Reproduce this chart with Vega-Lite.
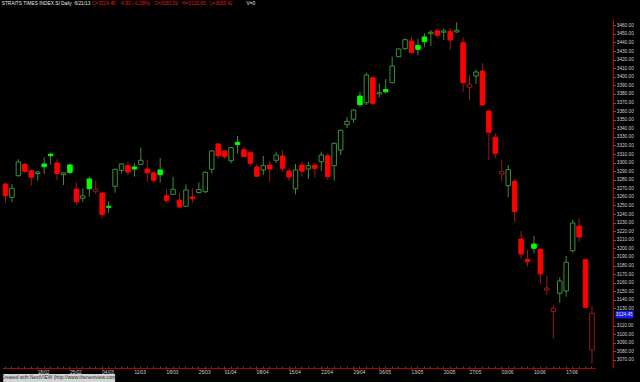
{
"$schema": "https://vega.github.io/schema/vega-lite/v6.json",
"width": 640, "height": 349,
"autosize": {"type": "none"},
"padding": {"left": 0, "top": 19, "right": 0, "bottom": 14},
"background": "#000000",
"config": {"view": {"stroke": null}, "font": "Liberation Sans"},
"data": {"values": [
{"d":"07/02","o":3275.0,"h":3277.0,"l":3253.7,"c":3261.4},
{"d":"08/02","o":3259.5,"h":3275.0,"l":3253.7,"c":3270.0},
{"d":"13/02","o":3284.7,"h":3303.8,"l":3283.8,"c":3300.7},
{"d":"14/02","o":3298.0,"h":3299.9,"l":3287.5,"c":3289.8},
{"d":"15/02","o":3290.5,"h":3291.4,"l":3273.1,"c":3282.9},
{"d":"18/02","o":3287.3,"h":3290.5,"l":3278.9,"c":3289.0},
{"d":"19/02","o":3298.4,"h":3306.2,"l":3286.7,"c":3295.2},
{"d":"20/02","o":3309.7,"h":3311.5,"l":3297.5,"c":3308.0},
{"d":"21/02","o":3299.5,"h":3303.8,"l":3279.7,"c":3287.1},
{"d":"22/02","o":3285.9,"h":3288.5,"l":3273.9,"c":3287.9},
{"d":"25/02","o":3297.2,"h":3298.9,"l":3286.7,"c":3288.6},
{"d":"26/02","o":3269.2,"h":3277.0,"l":3250.6,"c":3254.4},
{"d":"27/02","o":3258.4,"h":3270.0,"l":3254.0,"c":3261.1},
{"d":"28/02","o":3280.9,"h":3283.6,"l":3260.2,"c":3269.6},
{"d":"01/03","o":3266.1,"h":3278.9,"l":3263.4,"c":3268.9},
{"d":"04/03","o":3264.6,"h":3265.7,"l":3235.1,"c":3239.7},
{"d":"05/03","o":3249.1,"h":3255.2,"l":3241.6,"c":3247.9},
{"d":"06/03","o":3272.4,"h":3292.8,"l":3264.9,"c":3292.2},
{"d":"07/03","o":3291.0,"h":3299.2,"l":3287.5,"c":3298.4},
{"d":"08/03","o":3296.4,"h":3301.0,"l":3285.5,"c":3289.0},
{"d":"11/03","o":3294.9,"h":3299.2,"l":3283.6,"c":3292.5},
{"d":"12/03","o":3298.0,"h":3317.4,"l":3297.5,"c":3302.7},
{"d":"13/03","o":3292.5,"h":3303.0,"l":3277.7,"c":3288.2},
{"d":"14/03","o":3288.0,"h":3289.6,"l":3275.9,"c":3279.4},
{"d":"15/03","o":3291.4,"h":3305.4,"l":3276.6,"c":3285.9},
{"d":"18/03","o":3261.4,"h":3268.9,"l":3252.6,"c":3255.6},
{"d":"19/03","o":3263.0,"h":3283.6,"l":3262.2,"c":3268.9},
{"d":"20/03","o":3256.1,"h":3264.2,"l":3247.5,"c":3248.2},
{"d":"21/03","o":3249.1,"h":3274.7,"l":3248.5,"c":3268.1},
{"d":"22/03","o":3259.9,"h":3270.0,"l":3252.6,"c":3257.9},
{"d":"25/03","o":3265.1,"h":3277.0,"l":3264.0,"c":3268.6},
{"d":"26/03","o":3266.1,"h":3289.5,"l":3264.2,"c":3288.7},
{"d":"27/03","o":3292.2,"h":3314.7,"l":3287.5,"c":3313.5},
{"d":"28/03","o":3321.7,"h":3322.8,"l":3305.0,"c":3308.0},
{"d":"01/04","o":3313.5,"h":3314.0,"l":3304.2,"c":3306.9},
{"d":"02/04","o":3302.2,"h":3318.5,"l":3299.2,"c":3317.4},
{"d":"03/04","o":3323.6,"h":3331.0,"l":3310.8,"c":3320.9},
{"d":"04/04","o":3315.0,"h":3318.5,"l":3306.2,"c":3306.9},
{"d":"05/04","o":3311.5,"h":3313.9,"l":3296.0,"c":3299.2},
{"d":"08/04","o":3294.9,"h":3298.4,"l":3283.5,"c":3284.0},
{"d":"09/04","o":3291.4,"h":3307.7,"l":3285.5,"c":3296.4},
{"d":"10/04","o":3297.2,"h":3301.9,"l":3277.7,"c":3292.5},
{"d":"11/04","o":3302.7,"h":3312.7,"l":3299.2,"c":3308.8},
{"d":"12/04","o":3307.7,"h":3314.7,"l":3288.7,"c":3293.3},
{"d":"15/04","o":3290.2,"h":3293.3,"l":3278.5,"c":3283.2},
{"d":"16/04","o":3269.6,"h":3298.4,"l":3263.0,"c":3291.4},
{"d":"17/04","o":3297.2,"h":3301.0,"l":3283.6,"c":3290.0},
{"d":"18/04","o":3292.5,"h":3301.0,"l":3280.9,"c":3296.4},
{"d":"19/04","o":3297.0,"h":3299.9,"l":3282.4,"c":3293.3},
{"d":"22/04","o":3301.0,"h":3312.7,"l":3290.2,"c":3308.8},
{"d":"23/04","o":3308.0,"h":3310.8,"l":3279.7,"c":3283.6},
{"d":"24/04","o":3296.4,"h":3323.0,"l":3278.9,"c":3322.5},
{"d":"25/04","o":3314.7,"h":3338.2,"l":3308.8,"c":3337.6},
{"d":"26/04","o":3344.2,"h":3352.8,"l":3340.0,"c":3348.1},
{"d":"29/04","o":3350.5,"h":3362.0,"l":3346.5,"c":3361.3},
{"d":"30/04","o":3377.6,"h":3382.6,"l":3365.1,"c":3367.5},
{"d":"02/05","o":3369.8,"h":3404.8,"l":3367.1,"c":3402.1},
{"d":"03/05","o":3398.9,"h":3399.5,"l":3366.3,"c":3369.1},
{"d":"06/05","o":3380.0,"h":3392.4,"l":3376.1,"c":3381.5},
{"d":"07/05","o":3385.0,"h":3397.4,"l":3381.0,"c":3382.5},
{"d":"08/05","o":3393.1,"h":3423.4,"l":3392.5,"c":3412.6},
{"d":"09/05","o":3423.4,"h":3433.0,"l":3422.8,"c":3432.4},
{"d":"10/05","o":3432.7,"h":3444.8,"l":3431.3,"c":3443.2},
{"d":"13/05","o":3441.7,"h":3446.7,"l":3427.5,"c":3428.1},
{"d":"14/05","o":3436.7,"h":3443.7,"l":3425.0,"c":3432.0},
{"d":"15/05","o":3446.4,"h":3450.7,"l":3434.4,"c":3440.9},
{"d":"16/05","o":3450.2,"h":3454.5,"l":3435.9,"c":3451.9},
{"d":"17/05","o":3453.7,"h":3456.5,"l":3444.9,"c":3448.4},
{"d":"20/05","o":3451.9,"h":3456.5,"l":3442.9,"c":3453.4},
{"d":"21/05","o":3453.0,"h":3456.5,"l":3431.2,"c":3442.9},
{"d":"22/05","o":3452.2,"h":3463.5,"l":3451.5,"c":3454.2},
{"d":"23/05","o":3439.7,"h":3446.0,"l":3382.6,"c":3393.1},
{"d":"27/05","o":3387.8,"h":3402.1,"l":3372.9,"c":3391.3},
{"d":"28/05","o":3400.9,"h":3408.7,"l":3391.6,"c":3405.6},
{"d":"29/05","o":3406.7,"h":3415.7,"l":3366.3,"c":3367.1},
{"d":"30/05","o":3360.1,"h":3360.6,"l":3303.0,"c":3335.3},
{"d":"31/05","o":3329.5,"h":3334.1,"l":3305.0,"c":3310.8},
{"d":"03/06","o":3286.7,"h":3303.0,"l":3278.9,"c":3289.8},
{"d":"04/06","o":3273.1,"h":3297.2,"l":3259.5,"c":3291.8},
{"d":"05/06","o":3278.2,"h":3280.5,"l":3231.1,"c":3242.8},
{"d":"06/06","o":3210.9,"h":3220.3,"l":3187.3,"c":3193.5},
{"d":"07/06","o":3187.3,"h":3198.1,"l":3178.7,"c":3184.5},
{"d":"10/06","o":3205.1,"h":3214.4,"l":3194.3,"c":3200.1},
{"d":"11/06","o":3198.9,"h":3199.5,"l":3159.3,"c":3170.2},
{"d":"12/06","o":3151.5,"h":3167.8,"l":3145.7,"c":3153.8},
{"d":"13/06","o":3126.7,"h":3134.0,"l":3095.2,"c":3130.2},
{"d":"14/06","o":3147.7,"h":3166.3,"l":3136.7,"c":3162.0},
{"d":"17/06","o":3150.4,"h":3191.1,"l":3143.7,"c":3183.8},
{"d":"18/06","o":3197.3,"h":3233.1,"l":3195.0,"c":3229.6},
{"d":"19/06","o":3226.1,"h":3235.1,"l":3207.8,"c":3213.3},
{"d":"20/06","o":3186.8,"h":3187.5,"l":3130.0,"c":3131.28},
{"d":"21/06","o":3081.50,"h":3132.65,"l":3065.42,"c":3124.45}
]},
"transform": [{"window": [{"op": "lag", "field": "c", "as": "pc"}]}],
"resolve": {"axis": {"x": "independent", "y": "independent"}},
"layer": [
{
"mark": {"type": "rule", "strokeWidth": 1},
"encoding": {
"x": {"field": "d", "type": "ordinal",
"scale": {"type": "band", "paddingInner": 0, "paddingOuter": 0, "range": [2.28, 595.2], "domain": ["07/02","08/02","13/02","14/02","15/02","18/02","19/02","20/02","21/02","22/02","25/02","26/02","27/02","28/02","01/03","04/03","05/03","06/03","07/03","08/03","11/03","12/03","13/03","14/03","15/03","18/03","19/03","20/03","21/03","22/03","25/03","26/03","27/03","28/03","01/04","02/04","03/04","04/04","05/04","08/04","09/04","10/04","11/04","12/04","15/04","16/04","17/04","18/04","19/04","22/04","23/04","24/04","25/04","26/04","29/04","30/04","02/05","03/05","06/05","07/05","08/05","09/05","10/05","13/05","14/05","15/05","16/05","17/05","20/05","21/05","22/05","23/05","27/05","28/05","29/05","30/05","31/05","03/06","04/06","05/06","06/06","07/06","10/06","11/06","12/06","13/06","14/06","17/06","18/06","19/06","20/06","21/06"]},
"axis": {"orient": "bottom", "values": ["18/02","25/02","04/03","11/03","18/03","25/03","01/04","08/04","15/04","22/04","29/04","06/05","13/05","20/05","27/05","03/06","10/06","17/06"], "title": null, "grid": false, "domainColor": "#b00000", "domainWidth": 1, "tickColor": "#b00000", "tickSize": 2, "labelColor": "#cfcfcf", "labelFontSize": 4.7, "labelFont": "Liberation Sans", "labelAlign": "left", "labelBaseline": "top", "labelPadding": -1, "labelAngle": 0, "labelOverlap": false, "labelFlush": false, "labelBound": false}},
"y": {"field": "l", "type": "quantitative",
"scale": {"domain": [3060.6, 3467.34], "nice": false, "zero": false},
"axis": {"orient": "right", "offset": -27, "values": [3070,3080,3090,3100,3110,3130,3140,3150,3160,3170,3180,3190,3200,3210,3220,3230,3240,3250,3260,3270,3280,3290,3300,3310,3320,3330,3340,3350,3360,3370,3380,3390,3400,3410,3420,3430,3440,3450,3460], "format": ".2f", "title": null, "grid": false, "domainColor": "#b00000", "domainWidth": 1.2, "tickColor": "#8a8a8a", "tickSize": 2, "labelColor": "#cfcfcf", "labelFontSize": 4.7, "labelFont": "Liberation Sans", "labelPadding": 1.3, "labelAlign": "left", "labelBaseline": "middle", "labelOverlap": false, "labelBound": false, "labelFlush": false}},
"y2": {"field": "h"},
"color": {"condition": {"test": "datum.pc != null && datum.c > datum.pc", "value": "#3a8f3a"}, "value": "#9a1a1a"}
}
},
{
"mark": {"type": "bar", "size": 4.5, "strokeWidth": 1},
"encoding": {
"x": {"field": "d", "type": "ordinal", "axis": {"orient": "bottom", "labels": false, "domain": false, "title": null, "grid": false, "tickColor": "#4a4a4a", "tickSize": -2, "bandPosition": 0.5}},
"y": {"field": "o", "type": "quantitative", "axis": null},
"y2": {"field": "c"},
"fill": {"condition": [{"test": "datum.c < datum.o && datum.pc != null && datum.c > datum.pc", "value": "#00ff00"}, {"test": "datum.c < datum.o", "value": "#ff0000"}], "value": "#000000"},
"stroke": {"condition": [{"test": "datum.c < datum.o && datum.pc != null && datum.c > datum.pc", "value": "#00ff00"}, {"test": "datum.c < datum.o", "value": "#ff0000"}, {"test": "datum.pc != null && datum.c > datum.pc", "value": "#3a8f3a"}], "value": "#9a1a1a"}
}
},
{
"transform": [{"filter": "datum.d == '21/06'"}],
"mark": {"type": "point", "shape": "M-1,-0.42H1V0.42H-1Z", "size": 324, "filled": true, "color": "#1a1ae6", "opacity": 1, "strokeWidth": 0, "xOffset": 32.5, "yOffset": 1.5},
"encoding": {
"x": {"field": "d", "type": "ordinal", "axis": null},
"y": {"field": "c", "type": "quantitative", "axis": null}
}
},
{
"transform": [{"filter": "datum.d == '21/06'"}],
"mark": {"type": "text", "align": "left", "baseline": "middle", "dx": 23.8, "dy": 1.5, "fontSize": 4.7, "color": "#dde6ff"},
"encoding": {
"x": {"field": "d", "type": "ordinal", "axis": null},
"y": {"field": "c", "type": "quantitative", "axis": null},
"text": {"field": "c", "type": "quantitative", "format": ".2f"}
}
},
{
"data": {"values": [
{"t": "STRAITS TIMES INDEX.SI Daily\u00a0\u00a06/21/13", "at": "07/02", "k": "name"},
{"t": "C=3124.45\u00a0\u00a0\u00a0-6.83 (-0.28%)\u00a0\u00a0\u00a0O=3081.50\u00a0\u00a0\u00a0H=3132.65\u00a0\u00a0\u00a0L=3065.42", "at": "01/03", "k": "quote"},
{"t": "V=0", "at": "05/04", "k": "name"}
]},
"mark": {"type": "text", "align": "left", "baseline": "middle", "dx": -3.8, "fontSize": 4.8},
"encoding": {
"x": {"field": "at", "type": "ordinal", "axis": null},
"y": {"datum": 3485, "type": "quantitative", "axis": null},
"text": {"field": "t"},
"color": {"condition": {"test": "datum.k == 'quote'", "value": "#e01818"}, "value": "#e8e8e8"}
}
},
{
"data": {"values": [{"t": "Created with NextVIEW (http://www.thenextview.com)"}]},
"mark": {"type": "rect", "color": "#d4d4d4", "xOffset": -2.3, "x2Offset": 0},
"encoding": {
"x": {"datum": "07/02", "type": "ordinal", "axis": null},
"x2": {"datum": "06/03"},
"y": {"datum": 3053.6, "type": "quantitative", "axis": null},
"y2": {"datum": 3044.3}
}
},
{
"data": {"values": [{"t": "Created with NextVIEW (http://www.thenextview.com)"}]},
"mark": {"type": "text", "align": "left", "baseline": "middle", "dx": -4.5, "fontSize": 4.9, "color": "#2a2a2a"},
"encoding": {
"x": {"datum": "07/02", "type": "ordinal", "axis": null},
"y": {"datum": 3048.5, "type": "quantitative", "axis": null},
"text": {"field": "t"}
}
}
]
}
